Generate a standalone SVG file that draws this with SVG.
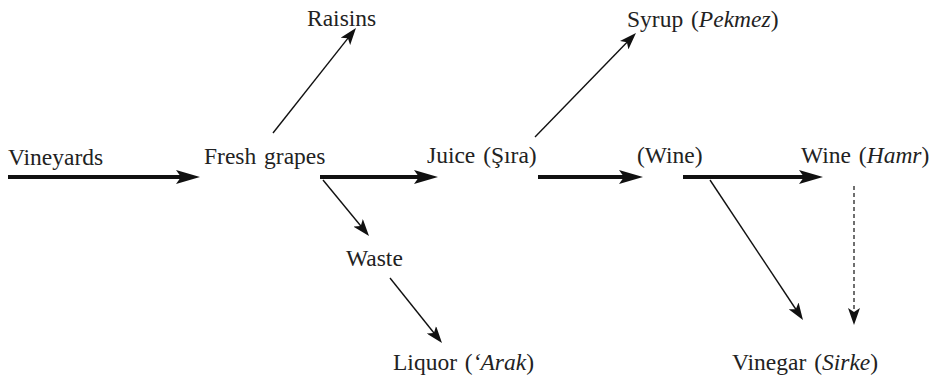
<svg xmlns="http://www.w3.org/2000/svg" width="935" height="377" viewBox="0 0 935 377">
<style>
text{font-family:"Liberation Serif","Times New Roman",serif;font-size:23.5px;fill:#222;word-spacing:2px}
.thick{stroke:#111;stroke-width:4;fill:none;marker-end:url(#hk)}
.thin{stroke:#111;stroke-width:1.4;fill:none;marker-end:url(#hn)}
.dash{stroke:#333;stroke-width:1.4;stroke-dasharray:4 3;fill:none;marker-end:url(#hn)}
</style>
<defs>
<marker id="hk" viewBox="0 0 24 14" markerWidth="24" markerHeight="14" refX="12" refY="7" orient="auto" markerUnits="userSpaceOnUse">
<path d="M0,0 L24,7 L0,14 L5,7 Z" fill="#111"/>
</marker>
<marker id="hn" viewBox="0 0 17 12" markerWidth="17" markerHeight="12" refX="8" refY="6" orient="auto" markerUnits="userSpaceOnUse">
<path d="M0,0 L17,6 L0,12 L4,6 Z" fill="#111"/>
</marker>
</defs>
<g id="connectors">
<line class="thick" x1="8" y1="177" x2="188" y2="177"/>
<line class="thick" x1="320" y1="177" x2="426" y2="177"/>
<line class="thick" x1="538" y1="177" x2="631" y2="177"/>
<line class="thick" x1="683" y1="177" x2="811" y2="177"/>
<line class="thin" x1="273" y1="133" x2="350.4" y2="35.1"/>
<line class="thin" x1="535" y1="137" x2="629.7" y2="39.5"/>
<line class="thin" x1="323" y1="180" x2="363.3" y2="229"/>
<line class="thin" x1="390" y1="278" x2="436.4" y2="336"/>
<line class="thin" x1="710" y1="180" x2="798" y2="312.5"/>
<line class="dash" x1="854" y1="186" x2="854" y2="316"/>
</g>
<g id="vineyards"><text x="8" y="165">Vineyards</text></g>
<g id="fresh-grapes"><text x="204" y="164">Fresh grapes</text></g>
<g id="raisins"><text x="307" y="26">Raisins</text></g>
<g id="juice"><text x="427" y="163">Juice (Şıra)</text></g>
<g id="syrup"><text x="627" y="27">Syrup (<tspan font-style="italic">Pekmez</tspan>)</text></g>
<g id="wine-paren"><text x="637" y="163">(Wine)</text></g>
<g id="wine-hamr"><text x="801" y="163">Wine (<tspan font-style="italic">Hamr</tspan>)</text></g>
<g id="waste"><text x="346" y="266">Waste</text></g>
<g id="liquor"><text x="393" y="370">Liquor (<tspan font-style="italic">‘Arak</tspan>)</text></g>
<g id="vinegar"><text x="732" y="370">Vinegar (<tspan font-style="italic">Sirke</tspan>)</text></g>
</svg>
